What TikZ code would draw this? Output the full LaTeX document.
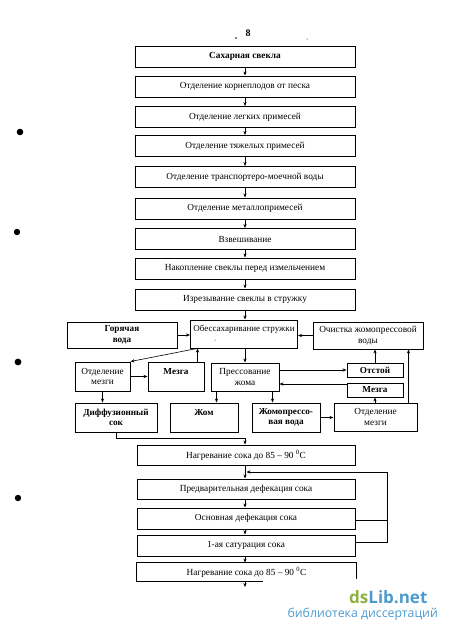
\documentclass[tikz,border=0pt]{standalone}
\usepackage{fontspec}
\setmainfont{Liberation Serif}
\newfontfamily\wmfont{Open Sans}
\usetikzlibrary{arrows.meta}
\definecolor{dsgreen}{HTML}{8DB043}
\definecolor{dsblue}{HTML}{4C9BD0}
\begin{document}
\begin{tikzpicture}[x=1pt,y=-1pt,
  box/.style={draw, line width=1pt, inner sep=1pt, align=center, font=\fontsize{9.3}{10.5}\selectfont},
  bbox/.style={box, font=\fontsize{9.2}{10.5}\selectfont\bfseries},
  main/.style={box, minimum width=220pt, minimum height=21pt},
  arr/.style={-{Stealth[length=4pt,width=3.2pt]}, line width=0.6pt},
  ln/.style={line width=0.6pt},
  blob/.style={fill=black}]
\useasboundingbox (0,0) rectangle (450,635);

% page header
\node[font=\fontsize{10}{11}\selectfont\bfseries] (pg) at (248,33) {8};
\fill (236,38) circle (0.8);
\fill (307,39) circle (0.5);

% punch marks
\fill[blob] (20,132) circle (3.3);
\fill[blob] (17,232) circle (3.2);
\fill[blob] (18,362) circle (3.4);
\fill[blob] (18,498) circle (3.2);

% main column
\node[main, font=\fontsize{9.3}{10.5}\selectfont\bfseries] (n1) at (245,56.5) {Сахарная свекла};
\node[main] (n2) at (245,86.5) {Отделение корнеплодов от песка};
\node[main] (n3) at (245,117) {Отделение легких примесей};
\node[main] (n4) at (245,146) {Отделение тяжелых примесей};
\node[main] (n5) at (245,177) {Отделение транспортеро-моечной воды};
\node[main] (n6) at (245,208.5) {Отделение металлопримесей};
\node[main] (n7) at (245,239) {Взвешивание};
\node[main] (n8) at (245,268.5) {Накопление свеклы перед измельчением};
\node[main] (n9) at (245,299.5) {Изрезывание свеклы в стружку};

\foreach \a/\b in {n1/n2,n2/n3,n3/n4,n4/n5,n5/n6,n6/n7,n7/n8,n8/n9}
  \draw[arr] (\a) -- (\b);

% middle section
\node[bbox, minimum width=110pt, minimum height=26pt] (hot) at (122,335) {Горячая\\вода};
\node[box, minimum width=107pt, minimum height=28pt, font=\fontsize{9}{10.5}\selectfont] (obes) at (244,334) {Обессахаривание стружки\\\mbox{}};
\fill (215,340) circle (0.5);
\node[box, minimum width=110pt, minimum height=27pt] (ochist) at (368,335.5) {Очистка жомопрессовой\\воды};

\node[box, minimum width=55pt, minimum height=29pt] (otdL) at (102.5,376.5) {Отделение\\мезги};
\node[bbox, minimum width=56pt, minimum height=29pt] (mezgaL) at (176,376.5) {Мезга\\\mbox{}};
\node[box, minimum width=68pt, minimum height=28pt] (press) at (245,377) {Прессование\\жома};
\node[bbox, minimum width=56pt, minimum height=14pt] (otstoy) at (375,370) {Отстой};
\node[bbox, minimum width=56pt, minimum height=14pt] (mezgaR) at (375,390) {Мезга};

\node[bbox, minimum width=82pt, minimum height=29pt] (diff) at (116,417.5) {Диффузионный\\сок};
\node[bbox, minimum width=68pt, minimum height=29pt] (zhom) at (204,417.5) {Жом\\\mbox{}};
\node[bbox, minimum width=68pt, minimum height=29pt] (zhpv) at (286,417.5) {Жомопрессо-\\вая вода};
\node[box, minimum width=83pt, minimum height=28pt] (otdR) at (375.5,417) {Отделение\\мезги};

\draw[arr] (n9.south) -- (n9.south |- obes.north);
\draw[arr] (hot.east) -- (hot.east -| obes.west);
\draw[arr] (ochist.west) -- (ochist.west -| obes.east);
\draw[arr] ([xshift=7pt]obes.south west) -- (otdL.north east);
\draw[arr] ([xshift=-7pt]mezgaL.north east) -- ([xshift=-7pt]mezgaL.north east |- obes.south);
\draw[arr] (otdL.east) -- (mezgaL.west);
\draw[arr] (press.north |- obes.south) -- (press.north);
\draw[arr] (otdL.south) -- (otdL.south |- diff.north);
\draw[arr] ([xshift=6pt]press.south west) -- ([xshift=6pt]press.south west |- zhom.north);
\draw[arr] ([xshift=-7pt]press.south east) -- ([xshift=-7pt]press.south east |- zhpv.north);
\draw[arr] (press.east |- otstoy.west) -- (otstoy.west);
\draw[arr] ([yshift=-1.5pt]mezgaR.north west) -- ([yshift=-1.5pt]mezgaR.north west -| press.east);
\draw[arr] (otstoy.north) -- (otstoy.north |- ochist.south);
\draw[arr] (otdR.north -| mezgaR.south) -- (mezgaR.south);
\draw[arr] ([xshift=-9pt]otdR.north east) -- ([xshift=-9pt]otdR.north east |- ochist.south);
\draw[arr] (zhpv.east) -- (zhpv.east -| otdR.west);

% lower section
\node[main, minimum width=218pt, minimum height=20pt] (heat1) at (246,455) {Нагревание сока до 85 -- 90 \textsuperscript{0}C};
\node[main, minimum width=218pt, minimum height=20pt] (pred) at (246,489) {Предварительная дефекация сока};
\node[main, minimum width=218pt] (osn) at (246,518.5) {Основная дефекация сока};
\node[main, minimum width=218pt] (sat) at (246,545.5) {1-ая сатурация сока};
\node[main, draw=none, minimum width=219pt, minimum height=18pt] (heat2) at (246.5,572) {Нагревание сока до 85 -- 90 \textsuperscript{0}C};
\coordinate (cutx) at (263,0);
\draw[line width=1pt] (cutx |- heat2.south) -- (heat2.south west) -- (heat2.north west) -- (heat2.north east) -- ([yshift=3pt]heat2.south east);

\draw[arr] (diff.south) -- ++(0,6) -| ([xshift=-1pt]heat1.north);
\draw[arr] ([xshift=-1pt]heat1.south) -- ([xshift=-1pt]heat1.south |- pred.north);
\draw[arr] ([xshift=-1pt]pred.south) -- ([xshift=-1pt]pred.south |- osn.north);
\draw[arr] ([xshift=-1pt]osn.south) -- ([xshift=-1pt]osn.south |- sat.north);
\draw[arr] ([xshift=-1pt]sat.south) -- ([xshift=-1pt]sat.south |- heat2.north);
\coordinate (fb) at (387,472);
\coordinate (out) at (245,587);
\draw[ln] ([yshift=-1.5pt]osn.east) -- ([yshift=-1.5pt]osn.east -| fb);
\draw[arr] ([yshift=3.5pt]sat.east) -| (fb) -- ([xshift=0.5pt]fb -| heat1.south);
\draw[arr] (heat2.south -| out) -- (out);

% watermark
\node[anchor=west, inner sep=0pt, font=\wmfont\bfseries\fontsize{17}{17}\selectfont] (wm1) at (349,597) {\textcolor{dsgreen}{ds}\textcolor{dsblue}{Lib.net}};
\node[anchor=east, inner sep=0pt, text=dsblue, font=\wmfont\fontsize{12.3}{13}\selectfont] (wm2) at (438,614) {библиотека диссертаций};
\end{tikzpicture}
\end{document}
